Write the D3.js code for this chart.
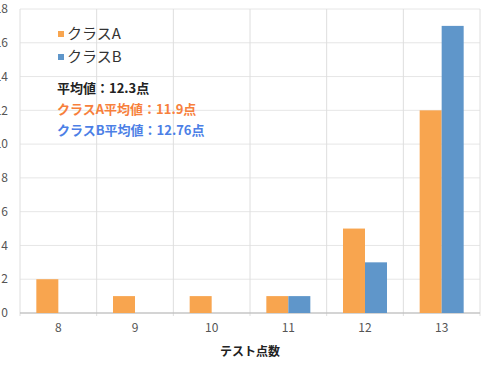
<!DOCTYPE html>
<html>
<head>
<meta charset="utf-8">
<script src="https://cdn.jsdelivr.net/npm/d3@7"></script>
<style>
  body { margin: 0; background: #fff; }
  svg { display: block; font-family: "Noto Sans CJK JP", "Noto Sans", sans-serif; }
</style>
</head>
<body>
<svg id="chart" width="488" height="367"></svg>
<script>
// test scores (x categories) and counts per class
const scores = ['8', '9', '10', '11', '12', '13']
const classA = [2, 1, 1, 1, 5, 12]
const classB = [0, 0, 0, 1, 3, 17]
const yTicks = [0, 2, 4, 6, 8, 10, 12, 14, 16, 18]
const seriesNames = ['クラスA', 'クラスB']
const seriesColors = ['#f8a54f', '#5f96ca']
const notes = [
  { text: '平均値：12.3点', color: '#222' },
  { text: 'クラスA平均値：11.9点', color: '#f7803c' },
  { text: 'クラスB平均値：12.76点', color: '#4c7fe6' }
]

const svg = d3.select('#chart')
const margin = { top: 9, right: 8, bottom: 54, left: 20 }
const width = 488 - margin.left - margin.right
const height = 367 - margin.top - margin.bottom

const g = svg.append('g').attr('transform', `translate(${margin.left},${margin.top})`)

const x = d3.scaleBand().domain(scores).range([0, width])
const y = d3.scaleLinear().domain([0, 18]).range([height, 0])

// horizontal grid
g.selectAll('.hgrid')
  .data(yTicks)
  .enter()
  .append('line')
  .attr('x1', 0).attr('x2', width)
  .attr('y1', d => y(d)).attr('y2', d => y(d))
  .attr('stroke', '#e6e6e6')

// vertical grid at category boundaries
const bounds = scores.map(s => x(s)).concat([width])
g.selectAll('.vgrid')
  .data(bounds)
  .enter()
  .append('line')
  .attr('x1', d => d).attr('x2', d => d)
  .attr('y1', 0).attr('y2', height + 3)
  .attr('stroke', '#dedede')

// bottom axis line
g.append('line')
  .attr('x1', 0).attr('x2', width)
  .attr('y1', height).attr('y2', height)
  .attr('stroke', '#b5b5b5')

// y labels (first digit falls off the left edge, like the source)
g.selectAll('.ylab')
  .data(yTicks)
  .enter()
  .append('text')
  .attr('x', -12)
  .attr('y', d => y(d))
  .attr('dy', '0.35em')
  .attr('text-anchor', 'end')
  .attr('font-size', 12)
  .attr('fill', '#555')
  .text(d => d)

// x labels
g.selectAll('.xlab')
  .data(scores)
  .enter()
  .append('text')
  .attr('x', d => x(d) + x.bandwidth() / 2)
  .attr('y', height + 19)
  .attr('text-anchor', 'middle')
  .attr('font-size', 12)
  .attr('fill', '#555')
  .text(d => d)

g.append('text')
  .attr('x', width / 2)
  .attr('y', height + 43)
  .attr('text-anchor', 'middle')
  .attr('font-size', 12)
  .attr('font-weight', 'bold')
  .attr('fill', '#222')
  .text('テスト点数')

// bars
const barW = 22
const series = [classA, classB]
series.forEach((vals, si) => {
  g.selectAll('.bar' + si)
    .data(vals.map((v, i) => ({ s: scores[i], v })).filter(d => d.v > 0))
    .enter()
    .append('rect')
    .attr('x', d => x(d.s) + x.bandwidth() / 2 - barW + si * barW)
    .attr('y', d => y(d.v))
    .attr('width', barW)
    .attr('height', d => height - y(d.v))
    .attr('fill', seriesColors[si])
})

// legend
const legend = svg.append('g').attr('transform', 'translate(58,0)')
seriesNames.forEach((name, i) => {
  const ly = 34 + i * 23
  legend.append('rect')
    .attr('x', 0).attr('y', ly - 3)
    .attr('width', 6).attr('height', 6)
    .attr('fill', seriesColors[i])
  legend.append('text')
    .attr('x', 9).attr('y', ly)
    .attr('dy', '0.35em')
    .attr('font-size', 15)
    .attr('fill', '#333')
    .text(name)
})

notes.forEach((n, i) => {
  svg.append('text')
    .attr('x', 57)
    .attr('y', 88 + i * 21)
    .attr('dy', '0.35em')
    .attr('font-size', 13)
    .attr('font-weight', 'bold')
    .attr('fill', n.color)
    .text(n.text)
})
</script>
</body>
</html>
